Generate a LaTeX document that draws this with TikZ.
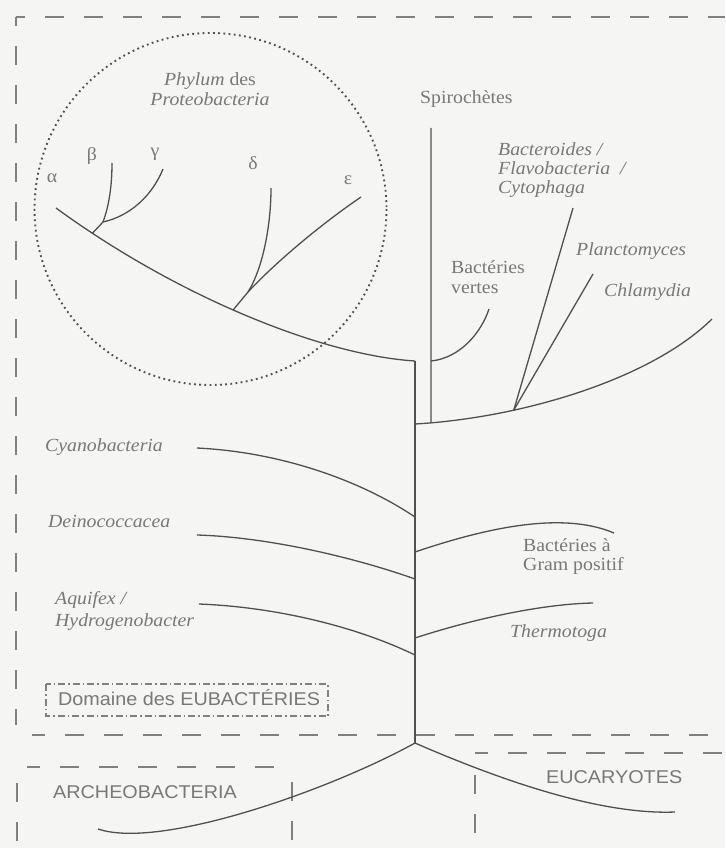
\documentclass[tikz,border=0pt]{standalone}
\usepackage{fontspec}
\setmainfont{Liberation Serif}[FakeStretch=1.07]
\setsansfont{Liberation Sans}[FakeStretch=1.07]
\definecolor{bgc}{HTML}{F5F5F3}
\definecolor{linec}{HTML}{505050}
\definecolor{txtc}{HTML}{787878}
\definecolor{dashc}{HTML}{808080}
\begin{document}
\begin{tikzpicture}[x=1pt,y=-1pt,
  br/.style={draw=linec, line width=1.3pt},
  lab/.style={text=txtc, inner sep=0pt, font=\fontsize{18.5}{22}\selectfont, anchor=base west},
  slab/.style={lab, font=\fontsize{18.5}{22}\selectfont\sffamily},
  frame/.style={draw=dashc, line width=1.6pt, dash pattern=on 19pt off 20pt},
  dotc/.style={draw=linec, line width=1.9pt, dash pattern=on 1.8pt off 3.4pt},
  dashdotbox/.style={draw=dashc, line width=1.2pt, dash pattern=on 7pt off 3pt on 1.5pt off 3pt}]
\fill[bgc] (0,0) rectangle (725,848);
\useasboundingbox (0,0) rectangle (725,848);

% dashed frames
\draw[frame, dash phase=10pt] (16,17) -- (725,17);
\draw[frame, dash phase=10pt] (16,17) -- (16,725);
\draw[frame, dash phase=6pt] (32,735) -- (725,735);
\draw[frame, dash phase=6pt] (27,767) -- (292,767);
\draw[frame] (292,782) -- (292,848);
\draw[frame] (17,783) -- (17,848);
\draw[frame, dash phase=6pt] (475,753) -- (725,753);
\draw[frame] (475,775) -- (475,848);

% dotted circle
\draw[dotc] (210.5,209) circle[radius=176];

% coordinates
\coordinate (p0) at (56,208);
\coordinate (ttop) at (415,361);
\coordinate (root) at (415,743);
\coordinate (bg) at (103,222);
\coordinate (bEnd) at (112,163);
\coordinate (gEnd) at (163,169);
\coordinate (de) at (248,292);
\coordinate (dEnd) at (271,188);
\coordinate (eEnd) at (361,197);
\coordinate (rb) at (415,424);
\coordinate (chEnd) at (712,319);
\coordinate (spTop) at (431,128);
\coordinate (spBV) at (431,361);
\coordinate (bvEnd) at (489,309);
\coordinate (bacEnd) at (573,208);
\coordinate (plEnd) at (593,274);
\coordinate (cyS) at (197,448);  \coordinate (cyT) at (415,517);
\coordinate (deS) at (197,535);  \coordinate (deT) at (415,579);
\coordinate (aqS) at (199,604);  \coordinate (aqT) at (415,655);
\coordinate (grS) at (415,552);  \coordinate (grE) at (614,533);
\coordinate (thS) at (415,638);  \coordinate (thE) at (593,603);
\coordinate (arE) at (98,829);
\coordinate (euE) at (675,812);

% trunk
\draw[br] (ttop) -- (root);
% proteobacteria
\draw[br] (p0) .. controls (175,295) and (320,355) .. coordinate[pos=0.1] (pBG) coordinate[pos=0.47] (pDE) (ttop);
\draw[br] (pBG) -- (bg);
\draw[br] (bg) .. controls (109,206) and (112,186) .. (bEnd);
\draw[br] (bg) .. controls (130,216) and (152,196) .. (gEnd);
\draw[br] (pDE) -- (de);
\draw[br] (de) .. controls (263,268) and (271,225) .. (dEnd);
\draw[br] (de) .. controls (276,262) and (320,225) .. (eEnd);

% right group
\draw[br] (rb) .. controls (520,418) and (650,380) .. coordinate[pos=0.05] (spB) coordinate[pos=0.3] (rJ) (chEnd);
\draw[br] (spB) -- (spTop);
\draw[br] (spBV) .. controls (460,358) and (481,333) .. (bvEnd);
\draw[br] (rJ) -- (bacEnd);
\draw[br] (rJ) -- (plEnd);

% left / right branches
\draw[br] (cyS) .. controls (280,452) and (360,480) .. (cyT);
\draw[br] (deS) .. controls (265,537) and (350,556) .. (deT);
\draw[br] (aqS) .. controls (275,607) and (355,626) .. (aqT);
\draw[br] (grS) .. controls (480,530) and (560,510) .. (grE);
\draw[br] (thS) .. controls (470,620) and (540,604) .. (thE);

% bottom
\draw[br] (root) .. controls (330,790) and (160,850) .. (arE);
\draw[br] (root) .. controls (500,780) and (600,815) .. (euE);

% labels
\node[lab, anchor=base] (phy1) at (210,86) {\textit{Phylum} des};
\node[lab, anchor=base] (phy2) at (210,106) {\textit{Proteobacteria}};
\node[lab, anchor=base] (ga) at (52,182) {α};
\node[lab, anchor=base] (gb) at (92,160) {β};
\node[lab, anchor=base] (gg) at (155,157) {γ};
\node[lab, anchor=base] (gd) at (253,169) {δ};
\node[lab, anchor=base] (ge) at (348,184) {ε};
\node[lab] (spi) at (420,103) {Spirochètes};
\node[lab] (bac1) at (498,155) {\textit{Bacteroides /}};
\node[lab] (bac2) at (498,174) {\textit{Flavobacteria~ /}};
\node[lab] (bac3) at (498,193) {\textit{Cytophaga}};
\node[lab] (pla) at (576,255) {\textit{Planctomyces}};
\node[lab] (bv1) at (451,273) {Bactéries};
\node[lab] (bv2) at (451,293) {vertes};
\node[lab] (chl) at (604,296) {\textit{Chlamydia}};
\node[lab] (cya) at (45,451) {\textit{Cyanobacteria}};
\node[lab] (dei) at (48,527) {\textit{Deinococcacea}};
\node[lab] (aq1) at (55,604) {\textit{Aquifex /}};
\node[lab] (aq2) at (55,626) {\textit{Hydrogenobacter}};
\node[lab] (gr1) at (523,551) {Bactéries à};
\node[lab] (gr2) at (523,570) {Gram positif};
\node[lab] (the) at (510,637) {\textit{Thermotoga}};
\draw[dashdotbox] (46,684) rectangle (328,716);
\node[slab] (dom) at (58,705) {Domaine des EUBACTÉRIES};
\node[slab] (arc) at (53,798) {ARCHEOBACTERIA};
\node[slab] (euc) at (546,783) {EUCARYOTES};
\end{tikzpicture}
\end{document}
